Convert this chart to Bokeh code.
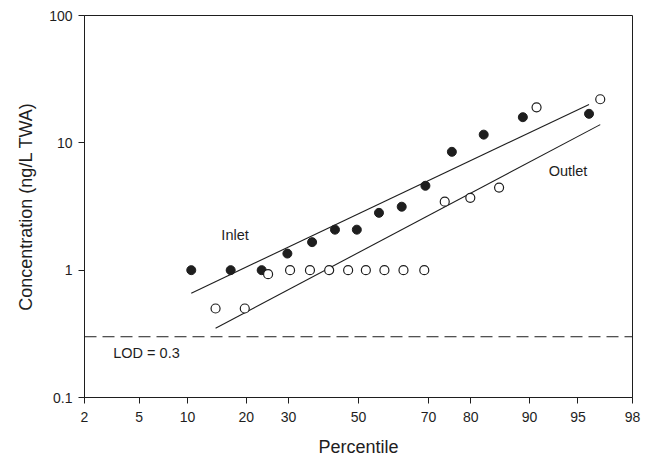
from statistics import NormalDist
from bokeh.plotting import figure
from bokeh.models import Range1d, FixedTicker, Span, ColumnDataSource
from bokeh.core.properties import value
from bokeh.embed import file_html
from bokeh.resources import INLINE

# ---- data ----
inlet_pct = [10.5, 16.9, 23.4, 29.7, 36.4, 43.0, 49.5, 56.1, 62.7, 69.2, 75.8, 82.6, 89.1, 95.8]
inlet_conc = [1.0, 1.0, 1.0, 1.35, 1.66, 2.08, 2.08, 2.82, 3.15, 4.6, 8.5, 11.6, 15.9, 16.9]

outlet_pct = [14.2, 19.7, 24.9, 30.4, 35.8, 41.3, 46.9, 52.2, 57.7, 63.2, 68.9, 74.1, 79.9, 85.4, 90.9, 96.5]
outlet_conc = [0.5, 0.5, 0.93, 1.0, 1.0, 1.0, 1.0, 1.0, 1.0, 1.0, 1.0, 3.45, 3.7, 4.45, 19.0, 22.0]

inlet_fit_pct = [10.5, 95.8]
inlet_fit_conc = [0.66, 20.0]
outlet_fit_pct = [14.2, 96.5]
outlet_fit_conc = [0.35, 13.9]

lod = 0.3
x_tick_pct = [2, 5, 10, 20, 30, 50, 70, 80, 90, 95, 98]
y_ticks = [0.1, 1, 10, 100]
y_tick_labels = ["0.1", "1", "10", "100"]

# ---- probability scale transform ----
nd = NormalDist()


def zq(p):
    return nd.inv_cdf(p / 100.0)


FONT = "Liberation Sans"
INK = "#1e1e1e"

p = figure(
    frame_width=548, frame_height=382,
    min_border_left=84, min_border_right=16, min_border_top=15, min_border_bottom=63,
    x_range=Range1d(zq(2), zq(98)), y_range=Range1d(0.1, 100),
    y_axis_type="log",
    output_backend="svg", toolbar_location=None,
)
p.background_fill_color = "white"
p.border_fill_color = "white"
p.outline_line_color = INK
p.outline_line_width = 1
p.xgrid.visible = False
p.ygrid.visible = False

# x axis
xt = [zq(v) for v in x_tick_pct]
p.xaxis.ticker = FixedTicker(ticks=xt, minor_ticks=[])
p.xaxis.major_label_overrides = {t: str(v) for t, v in zip(xt, x_tick_pct)}
p.xaxis.axis_label = "Percentile"
# y axis
p.yaxis.ticker = FixedTicker(ticks=y_ticks, minor_ticks=[])
p.yaxis.major_label_overrides = {t: s for t, s in zip(y_ticks, y_tick_labels)}
p.yaxis.axis_label = "Concentration (ng/L TWA)"

for ax in (p.xaxis, p.yaxis):
    ax.axis_line_color = INK
    ax.major_tick_line_color = INK
    ax.major_tick_in = 0
    ax.major_tick_out = 6
    ax.minor_tick_line_color = None
    ax.major_label_text_font = FONT
    ax.major_label_text_font_size = "14px"
    ax.major_label_text_color = INK
    ax.axis_label_text_font = FONT
    ax.axis_label_text_font_size = "18px"
    ax.axis_label_text_font_style = "normal"
    ax.axis_label_text_color = INK
p.xaxis.major_label_standoff = 8
p.xaxis.axis_label_standoff = 12
p.yaxis.major_label_standoff = 6
p.yaxis.axis_label_standoff = 10

# LOD line
p.add_layout(Span(location=lod, dimension="width", line_color=INK,
                  line_width=1, line_dash="12 6"))

# fit lines
p.line([zq(v) for v in inlet_fit_pct], inlet_fit_conc, line_color=INK, line_width=1.1)
p.line([zq(v) for v in outlet_fit_pct], outlet_fit_conc, line_color=INK, line_width=1.1)

# points
p.scatter([zq(v) for v in inlet_pct], inlet_conc, marker="circle", size=9,
          fill_color=INK, line_color=INK, line_width=1)
p.scatter([zq(v) for v in outlet_pct], outlet_conc, marker="circle", size=9,
          fill_color="white", line_color=INK, line_width=1.2)

# labels
lab = ColumnDataSource(dict(
    x=[zq(15.2), zq(92.3), zq(3.3)],
    y=[1.9, 6.06, 0.2256],
    t=["Inlet", "Outlet", "LOD = 0.3"],
))
p.text(x="x", y="y", text="t", source=lab, text_font=value(FONT),
       text_font_size="14.5px", text_color=INK, text_align="left",
       text_baseline="middle")

open("out.html", "w").write(file_html(p, INLINE))
